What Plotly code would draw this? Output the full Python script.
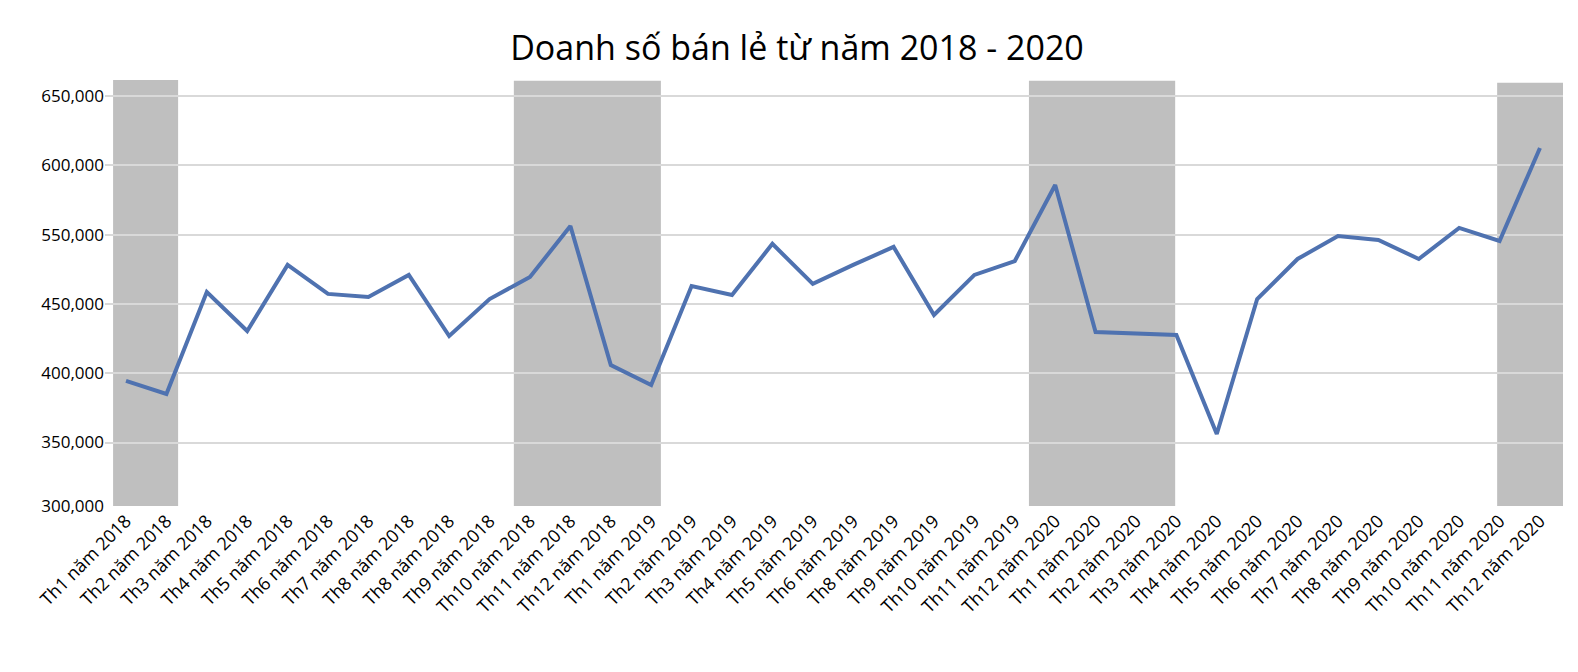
import plotly.graph_objs as go

months = ["Th1 năm 2018", "Th2 năm 2018", "Th3 năm 2018", "Th4 năm 2018", "Th5 năm 2018",
          "Th6 năm 2018", "Th7 năm 2018", "Th8 năm 2018", "Th8 năm 2018", "Th9 năm 2018",
          "Th10 năm 2018", "Th11 năm 2018", "Th12 năm 2018",
          "Th1 năm 2019", "Th2 năm 2019", "Th3 năm 2019", "Th4 năm 2019", "Th5 năm 2019",
          "Th6 năm 2019", "Th8 năm 2019", "Th9 năm 2019", "Th10 năm 2019", "Th11 năm 2019",
          "Th12 năm 2020", "Th1 năm 2020", "Th2 năm 2020", "Th3 năm 2020", "Th4 năm 2020",
          "Th5 năm 2020", "Th6 năm 2020", "Th7 năm 2020", "Th8 năm 2020", "Th9 năm 2020",
          "Th10 năm 2020", "Th11 năm 2020", "Th12 năm 2020"]

# values on the chart's own (uneven) scale
sales = [444400, 435000, 508600, 480400, 528100, 507200, 505000, 520900, 476800,
         503500, 519400, 556200, 455900, 441500, 512900, 506400, 543300, 514400,
         528100, 541100, 492000, 520900, 530900, 585800, 479700, 478300, 477600,
         406100, 503500, 532400, 549000, 546100, 532400, 554800, 545400, 612500]

# y axis: tick positions and the labels printed on them
tick_pos = [650000, 600000, 550000, 500000, 450000, 400000, 354200]
tick_text = ["650,000", "600,000", "550,000", "450,000", "400,000", "350,000", "300,000"]

# shaded bands (category index start, end, top)
band_start = [-0.32, 9.6, 22.35, 33.94]
band_end = [1.29, 13.24, 25.97, 35.57]
band_top = [661500, 661000, 661000, 659500]

y_min, y_max = 354200, 661500

shapes = [dict(type='rect', xref='x', yref='y', x0=a, x1=b, y0=y_min, y1=t,
               fillcolor='rgb(191,191,191)', line=dict(width=0), layer='below')
          for a, b, t in zip(band_start, band_end, band_top)]

trace = go.Scatter(x=list(range(len(months))), y=sales, mode='lines',
                   line=dict(color='rgb(79,114,176)', width=4), showlegend=False)

layout = go.Layout(
    title=dict(text='Doanh số bán lẻ từ năm 2018 - 2020', x=0.5, y=1 - 40 / 672,
               xanchor='center', yanchor='middle',
               font=dict(size=34, color='black', family='Open Sans')),
    width=1578, height=672,
    margin=dict(l=97, r=23, t=72, b=174),
    paper_bgcolor='white', plot_bgcolor='white',
    font=dict(family='Open Sans', color='black'),
    xaxis=dict(range=[-0.52, 35.57], tickvals=list(range(len(months))), ticktext=months,
               tickangle=-45, tickfont=dict(size=18), showgrid=False, zeroline=False,
               showline=False, automargin=False),
    yaxis=dict(range=[y_min, y_max], tickvals=tick_pos, ticktext=tick_text,
               tickfont=dict(size=17), showgrid=True, gridcolor='rgb(217,217,217)',
               gridwidth=1.5, zeroline=False, automargin=False),
    shapes=shapes,
)

fig = go.Figure(data=[trace], layout=layout)
fig.write_html("out.html")
